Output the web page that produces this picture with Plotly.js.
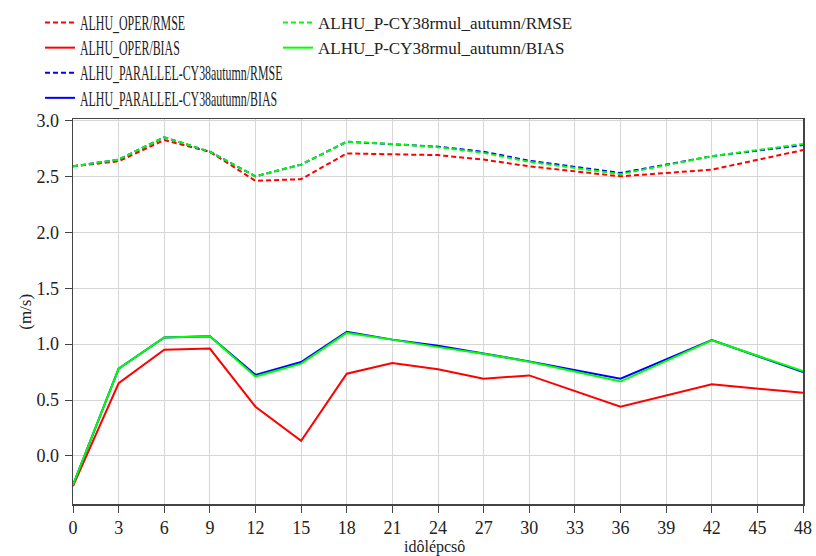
<!DOCTYPE html>
<html>
<head>
<meta charset="utf-8">
<script src="https://cdn.plot.ly/plotly-3.0.1.min.js"></script>
<style>
  html, body { margin: 0; padding: 0; background: #fff; }
  #chart { width: 816px; height: 556px; }
  #chart text.legendtext {
    transform-box: fill-box;
    transform-origin: 0% 50%;
    transform: scale(0.70, 1.18);
  }
</style>
</head>
<body>
<div id="chart"></div>
<script>
// Forecast lead times (hours)
const leadTimes = [0, 3, 6, 9, 12, 15, 18, 21, 24, 27, 30, 36, 42, 48];

// ALHU_OPER
const operRMSE = [2.59, 2.635, 2.825, 2.72, 2.46, 2.475, 2.705, 2.70, 2.69, 2.65, 2.59, 2.50, 2.56, 2.735];
const operBIAS = [-0.27, 0.65, 0.95, 0.96, 0.44, 0.135, 0.735, 0.83, 0.775, 0.69, 0.72, 0.44, 0.64, 0.565];

// ALHU_PARALLEL-CY38autumn
const parRMSE = [2.59, 2.65, 2.85, 2.72, 2.50, 2.605, 2.81, 2.79, 2.765, 2.72, 2.64, 2.53, 2.68, 2.78];
const parBIAS = [-0.26, 0.78, 1.06, 1.07, 0.725, 0.84, 1.11, 1.04, 0.985, 0.915, 0.845, 0.69, 1.035, 0.75];

// ALHU_P-CY38rmul_autumn
const pRMSE = [2.59, 2.65, 2.85, 2.72, 2.50, 2.605, 2.81, 2.79, 2.76, 2.71, 2.63, 2.52, 2.68, 2.79];
const pBIAS = [-0.26, 0.78, 1.06, 1.07, 0.71, 0.825, 1.10, 1.04, 0.973, 0.914, 0.843, 0.665, 1.033, 0.76];

const xTicks = [0, 3, 6, 9, 12, 15, 18, 21, 24, 27, 30, 33, 36, 39, 42, 45, 48];
const yTicks = [0, 0.5, 1, 1.5, 2, 2.5, 3];
const yTickText = ['0.0', '0.5', '1.0', '1.5', '2.0', '2.5', '3.0'];
const xTitle = 'idôlépcsô';
const yTitle = '(m/s)';

const RED = '#ff0000', BLUE = '#0000ff', GREEN = '#00ff00';
const DASH = '5px,3px';

function tr(name, y, color, dashed, legend) {
  return {
    type: 'scatter', mode: 'lines', name: name,
    x: leadTimes, y: y,
    line: { color: color, width: 2, dash: dashed ? DASH : 'solid' },
    legend: legend
  };
}

const data = [
  tr('ALHU_OPER/RMSE', operRMSE, RED, true, 'legend'),
  tr('ALHU_OPER/BIAS', operBIAS, RED, false, 'legend'),
  tr('ALHU_PARALLEL-CY38autumn/RMSE', parRMSE, BLUE, true, 'legend'),
  tr('ALHU_PARALLEL-CY38autumn/BIAS', parBIAS, BLUE, false, 'legend'),
  tr('ALHU_P-CY38rmul_autumn/RMSE', pRMSE, GREEN, true, 'legend2'),
  tr('ALHU_P-CY38rmul_autumn/BIAS', pBIAS, GREEN, false, 'legend2')
];

const FONT = 'Liberation Serif, Times New Roman, serif';
const TXT = '#222';
const legendCommon = {
  xref: 'container', yref: 'container',
  xanchor: 'left', yanchor: 'top',
  bgcolor: 'rgba(0,0,0,0)', borderwidth: 0,
  font: { family: FONT, size: 17, color: TXT },
  orientation: 'v', traceorder: 'normal', tracegroupgap: 0
};

const layout = {
  width: 816, height: 556,
  margin: { l: 73, r: 12.5, t: 118.5, b: 52, autoexpand: false },
  paper_bgcolor: '#ffffff', plot_bgcolor: '#ffffff',
  font: { family: FONT, size: 18, color: TXT },
  showlegend: true,
  legend: Object.assign({}, legendCommon, { x: 40 / 816, y: 1 - 5 / 556 }),
  legend2: Object.assign({}, legendCommon, { x: 278 / 816, y: 1 - 5 / 556 }),
  xaxis: {
    range: [0, 48], tickmode: 'array', tickvals: xTicks, ticktext: xTicks.map(String),
    showgrid: true, gridcolor: '#d6d6d6', gridwidth: 1,
    showline: true, linecolor: '#444', linewidth: 1.5, mirror: true,
    ticks: 'outside', ticklen: 7, tickcolor: '#444', tickwidth: 1,
    zeroline: false, tickangle: 0, ticklabelstandoff: 0,
    tickfont: { family: FONT, size: 18, color: TXT },
    automargin: false
  },
  yaxis: {
    range: [-0.43, 3.013], tickmode: 'array',
    tickvals: yTicks, ticktext: yTickText,
    showgrid: true, gridcolor: '#d6d6d6', gridwidth: 1,
    showline: true, linecolor: '#444', linewidth: 1.5, mirror: true,
    ticks: 'outside', ticklen: 7, tickcolor: '#444', tickwidth: 1,
    zeroline: false, ticklabelstandoff: 2,
    tickfont: { family: FONT, size: 18, color: TXT },
    automargin: false
  },
  annotations: [
    {
      text: xTitle, xref: 'paper', yref: 'paper',
      x: (435 - 73) / 730.5, y: (504 - 546.8) / 385.5,
      xanchor: 'center', yanchor: 'middle', showarrow: false,
      font: { family: FONT, size: 16, color: TXT }
    },
    {
      text: yTitle, xref: 'paper', yref: 'paper', textangle: -90,
      x: (26 - 73) / 730.5, y: (504 - 311.5) / 385.5,
      xanchor: 'center', yanchor: 'middle', showarrow: false,
      font: { family: FONT, size: 17, color: TXT }
    }
  ]
};

Plotly.newPlot('chart', data, layout, { displayModeBar: false, staticPlot: true });
</script>
</body>
</html>
